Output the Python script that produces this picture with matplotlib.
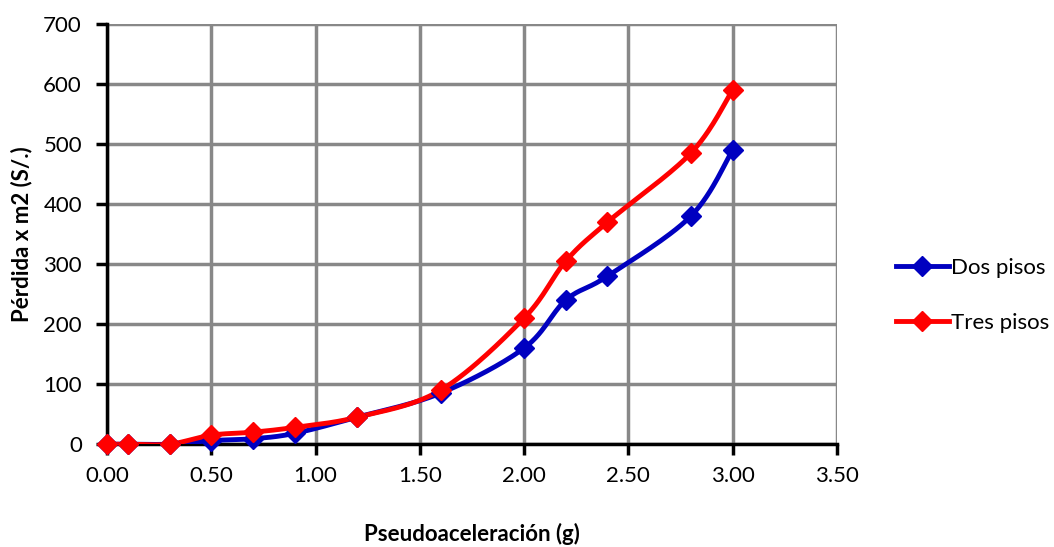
import matplotlib.pyplot as plt
import numpy as np

plt.rcParams["font.family"] = ["Lato", "DejaVu Sans"]

# Data
pga = [0.0, 0.1, 0.3, 0.5, 0.7, 0.9, 1.2, 1.6, 2.0, 2.2, 2.4, 2.8, 3.0]
dos_pisos = [0, 0, 0, 6, 9, 18, 45, 85, 160, 240, 280, 380, 490]
tres_pisos = [0, 0, 0, 15, 20, 28, 45, 90, 210, 305, 370, 485, 590]
x_ticks = [0.0, 0.5, 1.0, 1.5, 2.0, 2.5, 3.0, 3.5]
y_ticks = [0, 100, 200, 300, 400, 500, 600, 700]


def smooth(x, y, n=30):
    # Catmull-Rom style smoothing, like spreadsheet "smoothed line"
    x = np.asarray(x, float)
    y = np.asarray(y, float)
    px = np.concatenate([[x[0]], x, [x[-1]]])
    py = np.concatenate([[y[0]], y, [y[-1]]])
    xs, ys = [], []
    t = np.linspace(0, 1, n)
    for i in range(1, len(px) - 2):
        p0, p1, p2, p3 = (np.array([px[k], py[k]]) for k in range(i - 1, i + 3))
        c1 = p1 + (p2 - p0) / 6
        c2 = p2 - (p3 - p1) / 6
        b = ((1 - t) ** 3)[:, None] * p1 + (3 * (1 - t) ** 2 * t)[:, None] * c1 \
            + (3 * (1 - t) * t ** 2)[:, None] * c2 + (t ** 3)[:, None] * p2
        xs.extend(b[:, 0])
        ys.extend(b[:, 1])
    return xs, ys


fig = plt.figure(figsize=(10.54, 5.47), dpi=100)
ax = fig.add_axes([0.1015, 0.188, 0.6925, 0.768])

for vals, color, label in [(dos_pisos, "#0000c0", "Dos pisos"),
                           (tres_pisos, "#ff0000", "Tres pisos")]:
    sx, sy = smooth(pga, vals)
    ax.plot(sx, sy, color=color, lw=3.5, zorder=3)
    ax.plot(pga, vals, ls="none", marker="D", ms=10.5, color=color, zorder=4,
            clip_on=False)
    ax.plot([], [], color=color, lw=3.5, marker="D", ms=10, label=label)

ax.set_xlim(0, 3.5)
ax.set_ylim(0, 700)
ax.set_xticks(x_ticks)
ax.set_xticklabels([f"{v:.2f}" for v in x_ticks])
ax.set_yticks(y_ticks)
ax.grid(True, color="#888888", lw=2.5)
ax.set_axisbelow(True)

for side in ["top", "right"]:
    ax.spines[side].set_visible(False)
for side in ["left", "bottom"]:
    ax.spines[side].set_linewidth(2.5)
    ax.spines[side].set_zorder(2.5)

ax.tick_params(axis="both", direction="out", length=8, width=2.5, labelsize=16)
ax.tick_params(axis="y", pad=10)
ax.tick_params(axis="x", pad=8)

ax.set_xlabel("Pseudoaceleración (g)", fontsize=16, fontweight="bold", labelpad=26)
ax.set_ylabel("Pérdida x m2 (S/.)", fontsize=16, fontweight="bold", labelpad=8)

fig.legend(loc="center left", bbox_to_anchor=(0.835, 0.46), frameon=False,
           fontsize=16, handlelength=2.4, handletextpad=0.1, labelspacing=1.6,
           borderpad=0.2)

fig.savefig("out.png", dpi=100)
